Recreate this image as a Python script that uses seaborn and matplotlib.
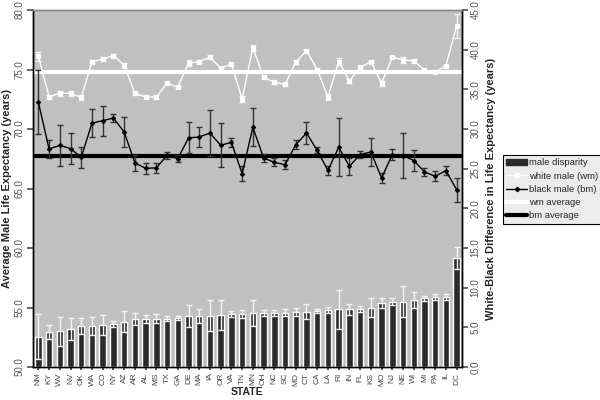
import numpy as np
import pandas as pd
import seaborn as sns
import matplotlib.pyplot as plt
from matplotlib.lines import Line2D
from matplotlib.patches import Patch

states = ["NM", "KY", "WV", "NV", "OK", "WA", "CO", "NY", "AZ", "AR",
          "AL", "MS", "TX", "GA", "DE", "MA", "IA", "OR", "VA", "TN",
          "MN", "OH", "NC", "SC", "MD", "CT", "CA", "LA", "RI", "IN",
          "FL", "KS", "MO", "NJ", "NE", "WI", "MI", "PA", "IL", "DC"]

white_male = [76.1, 72.7, 73.0, 73.0, 72.65, 75.67, 75.87, 76.17, 75.36, 73.0,
              72.68, 72.68, 73.85, 73.52, 75.53, 75.67, 76.03, 75.11, 75.45, 72.51,
              76.84, 74.33, 73.94, 73.74, 75.61, 76.56, 75.0, 72.68, 75.67, 74.05,
              75.17, 75.67, 73.85, 76.03, 75.81, 75.72, 74.97, 74.78, 75.31, 78.66]
white_err = [0.4, 0.15, 0.2, 0.2, 0.2, 0.1, 0.15, 0.1, 0.2, 0.15,
             0.2, 0.2, 0.1, 0.1, 0.25, 0.15, 0.15, 0.1, 0.15, 0.25,
             0.25, 0.15, 0.15, 0.15, 0.15, 0.15, 0.1, 0.25, 0.3, 0.15,
             0.1, 0.15, 0.2, 0.1, 0.25, 0.15, 0.1, 0.1, 0.1, 1.0]

black_male = [72.25, 68.32, 68.63, 68.35, 67.62, 70.5, 70.7, 70.92, 69.75, 67.15,
              66.7, 66.73, 67.79, 67.51, 69.25, 69.33, 69.66, 68.63, 68.88, 66.25,
              70.14, 67.57, 67.2, 67.0, 68.68, 69.66, 68.2, 66.53, 68.46, 66.87,
              67.85, 68.07, 65.89, 67.85, 67.77, 67.35, 66.4, 66.03, 66.5, 64.9]
black_err = [2.7, 0.77, 1.7, 1.3, 0.9, 1.15, 1.25, 0.35, 1.3, 0.7,
             0.45, 0.45, 0.3, 0.3, 1.3, 0.85, 1.95, 1.85, 0.4, 0.65,
             1.6, 0.35, 0.35, 0.4, 0.4, 0.95, 0.25, 0.4, 2.45, 0.7,
             0.3, 1.2, 0.4, 0.45, 1.9, 0.9, 0.35, 0.4, 0.4, 1.0]

disparity = [3.82, 4.41, 4.5, 4.75, 5.17, 5.21, 5.3, 5.42, 5.71, 6.0,
             6.09, 6.09, 6.09, 6.18, 6.39, 6.43, 6.47, 6.56, 6.68, 6.72,
             6.77, 6.77, 6.81, 6.85, 6.9, 6.98, 7.06, 7.15, 7.27, 7.27,
             7.31, 7.48, 8.03, 8.23, 8.23, 8.45, 8.66, 8.87, 8.87, 13.78]
disparity_err = [2.8, 0.85, 1.83, 1.4, 0.95, 1.15, 1.26, 0.35, 1.35, 0.75,
                 0.5, 0.55, 0.3, 0.3, 1.37, 0.86, 1.95, 1.9, 0.4, 0.5,
                 1.66, 0.4, 0.4, 0.4, 0.5, 0.95, 0.3, 0.4, 2.47, 0.7,
                 0.35, 1.22, 0.63, 0.42, 1.97, 1.05, 0.32, 0.38, 0.38, 1.39]

wm_average = 74.8
bm_average = 67.7

df = pd.DataFrame({"state": states, "wm": white_male, "bm": black_male,
                   "disp": disparity})
pos = np.arange(len(states))

sns.set_theme(style="ticks")
plt.rcParams["font.family"] = ["Liberation Sans", "DejaVu Sans"]

fig = plt.figure(figsize=(6, 4), dpi=100)
ax1 = fig.add_axes([0.055, 0.0825, 0.715, 0.8925])
ax1.set_facecolor("#c0c0c0")
ax2 = ax1.twinx()

# bars on the right axis
sns.barplot(data=df, x="state", y="disp", color="#2b2b2b", saturation=1,
            width=0.6, ax=ax2, errorbar=None)
ax2.errorbar(pos, disparity, yerr=disparity_err, fmt="none", ecolor="#f4f4f4",
             elinewidth=1, capsize=2.2, capthick=1)

# lines on the left axis
ax1.axhline(wm_average, color="white", lw=3, zorder=2)
ax1.axhline(bm_average, color="black", lw=3, zorder=2)
ax1.errorbar(pos, white_male, yerr=white_err, fmt="none", ecolor="#f4f4f4",
             elinewidth=1, capsize=2.2, capthick=1, zorder=3)
ax1.errorbar(pos, black_male, yerr=black_err, fmt="none", ecolor="#333333",
             elinewidth=1, capsize=2.2, capthick=1, zorder=3)
sns.lineplot(x=pos, y=df["wm"], color="white", lw=1, marker="s", ms=2.2,
             mec="white", ax=ax1, zorder=4)
sns.lineplot(x=pos, y=df["bm"], color="black", lw=1, marker="D", ms=2.2,
             mec="black", ax=ax1, zorder=4)

ax1.set_xlim(-0.5, len(states) - 0.5)
ax1.set_ylim(50, 80)
ax2.set_ylim(0, 45)
ax1.set_yticks(np.arange(50, 80.1, 5))
ax1.set_yticklabels([f"{v:.1f}" for v in np.arange(50, 80.1, 5)])
ax2.set_yticks(np.arange(0, 45.1, 5))
ax2.set_yticklabels([f"{v:.1f}" for v in np.arange(0, 45.1, 5)])
ax1.set_xticks(pos)
ax1.set_xticklabels(states)
ax2.set_xticks(pos)
ax2.set_xticklabels(states)

for ax in (ax1, ax2):
    ax.tick_params(axis="x", labelrotation=90, labelsize=6, length=2,
                   colors="#444444", pad=2)
    ax.tick_params(axis="y", labelrotation=90, labelsize=7, length=4,
                   colors="#555555", pad=2)
    for sp in ax.spines.values():
        sp.set_color("black")
        sp.set_linewidth(1)
    ax.spines["top"].set_color("#888888")
    ax.spines["top"].set_visible(True)
    ax.spines["right"].set_visible(True)
for lab in ax1.get_yticklabels() + ax2.get_yticklabels():
    lab.set_va("center")

ax1.set_xlabel("STATE", fontsize=7.5, fontweight="bold", labelpad=1)
ax2.set_xlabel("")
ax1.set_ylabel("Average Male Life Expectancy (years)", fontsize=8,
               fontweight="bold", labelpad=2)
ax2.set_ylabel("White-Black Difference in Life Expectancy (years)",
               fontsize=8, fontweight="bold", labelpad=4)

handles = [
    Patch(facecolor="#2b2b2b", edgecolor="#2b2b2b"),
    Line2D([], [], color="white", lw=1, marker="s", ms=2.2),
    Line2D([], [], color="black", lw=1, marker="D", ms=2.2),
    Line2D([], [], color="white", lw=3),
    Line2D([], [], color="black", lw=3),
]
labels = ["male disparity", "white male (wm)", "black male (bm)",
          "wm average", "bm average"]
leg = fig.legend(handles, labels, loc="upper left",
                 bbox_to_anchor=(503 / 600, 1 - 155 / 400), fontsize=6.8,
                 frameon=True, fancybox=False, edgecolor="black",
                 facecolor="#ececec", framealpha=1, borderaxespad=0,
                 handlelength=2.2, handletextpad=0.2, labelspacing=0.45,
                 borderpad=0.35)
leg.get_frame().set_linewidth(0.8)

fig.savefig("out.png", dpi=100)
